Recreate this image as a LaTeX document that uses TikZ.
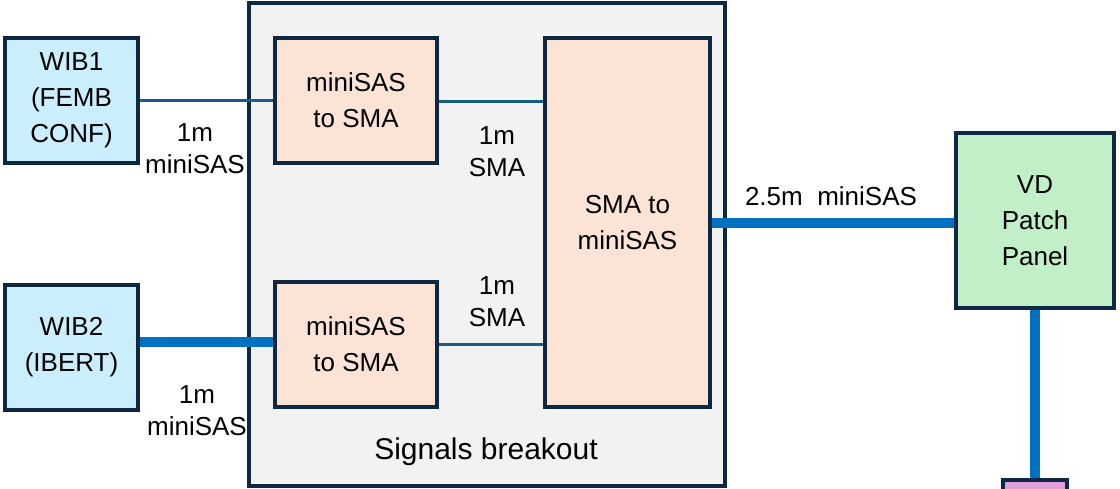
\documentclass[tikz,border=0pt]{standalone}
\usepackage{fontspec}
\setmainfont{Liberation Sans}
\definecolor{bord}{HTML}{0E2841}
\definecolor{thin}{HTML}{156082}
\definecolor{thick}{HTML}{0070C0}
\definecolor{bluefill}{HTML}{CAEEFB}
\definecolor{peach}{HTML}{FBE3D6}
\definecolor{greenfill}{HTML}{C1F0C8}
\definecolor{pinkfill}{HTML}{E59EDD}
\definecolor{grayfill}{HTML}{F2F2F2}
\tikzset{
  box/.style={draw=bord, line width=3.5pt, align=center, inner sep=0pt,
    font=\fontsize{26}{36}\selectfont},
  lbl/.style={align=center, inner sep=0pt, font=\fontsize{26}{32}\selectfont},
  thinline/.style={draw=thin, line width=3.5pt},
  thickline/.style={draw=thick, line width=10pt},
}
\begin{document}
\begin{tikzpicture}[x=1pt,y=-1pt]
\useasboundingbox (0,0) rectangle (1120,488);
\clip (0,0) rectangle (1120,488);
\node[box, fill=grayfill, minimum width=476pt, minimum height=483pt] (brk) at (487,244.5) {};
\node[box, fill=bluefill, minimum width=133pt, minimum height=125pt] (wib1) at (71.5,100.5) {WIB1\\(FEMB\\CONF)};
\node[box, fill=bluefill, minimum width=133pt, minimum height=125pt] (wib2) at (71.5,347.5) {WIB2\\(IBERT)};
\node[box, fill=peach, minimum width=162pt, minimum height=125pt] (mini1) at (356,100.5) {miniSAS\\to SMA};
\node[box, fill=peach, minimum width=162pt, minimum height=125pt] (mini2) at (356,344.5) {miniSAS\\to SMA};
\node[box, fill=peach, minimum width=165pt, minimum height=369pt] (sma) at (627.5,222.5) {SMA to\\miniSAS};
\node[box, fill=greenfill, minimum width=158pt, minimum height=175pt] (vd) at (1035,220.5) {VD\\Patch\\Panel};
\node[box, fill=pinkfill, minimum width=64pt, minimum height=40pt] (pink) at (1035,500) {};
\draw[thinline] (wib1.east) -- (mini1.west);
\draw[thinline] ([yshift=-1pt]mini1.east) -- ([yshift=-1pt]mini1.east -| sma.west);
\draw[thinline] (mini2.east) -- (mini2.east -| sma.west);
\draw[thickline] ([yshift=3pt]mini2.west -| wib2.east) -- ([yshift=3pt]mini2.west);
\draw[thickline] (sma.east) -- (sma.east -| vd.west);
\draw[thickline] (vd.south) -- (pink.north);
\node[lbl] (l1) at (195,149) {1m\\miniSAS};
\node[lbl] (l2) at (197,411) {1m\\miniSAS};
\node[lbl] (l3) at (497,152) {1m\\SMA};
\node[lbl] (l4) at (497,302) {1m\\SMA};
\node[lbl] (l5) at (831,196) {2.5m\ \ miniSAS};
\node[lbl, font=\fontsize{30}{32}\selectfont] (l6) at (486,452) {Signals breakout};
\end{tikzpicture}
\end{document}
